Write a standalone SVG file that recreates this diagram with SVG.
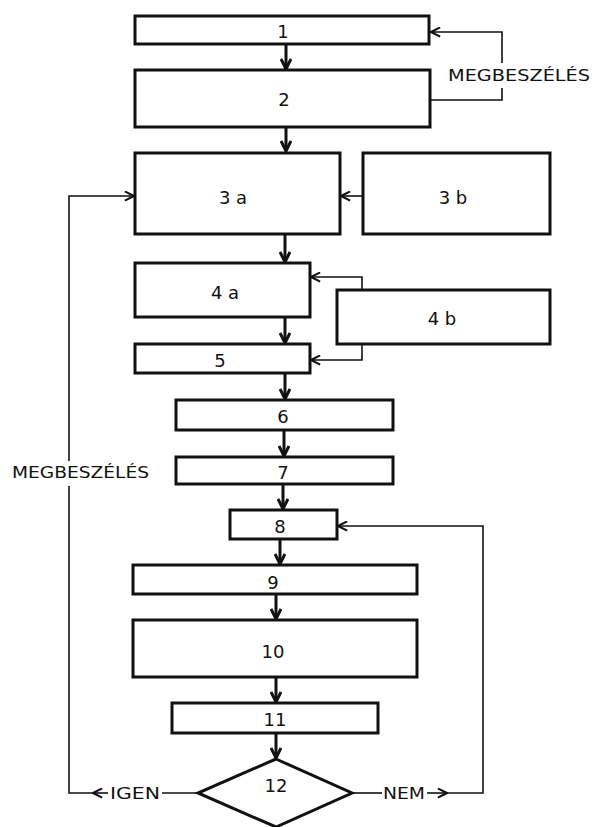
<svg xmlns="http://www.w3.org/2000/svg" width="592" height="827" viewBox="0 0 592 827">
<style>
.box{fill:#fff;stroke:#111;stroke-width:3}
.lbl{font-family:"DejaVu Sans","Liberation Sans",sans-serif;font-size:18px;fill:#111;text-anchor:middle;dominant-baseline:central}
.main{fill:none;stroke:#111;stroke-width:3}
.thin{fill:none;stroke:#111;stroke-width:1.6}
.word{font-family:"DejaVu Sans","Liberation Sans",sans-serif;font-size:16px;fill:#111;dominant-baseline:central}
</style>
<defs>
<marker id="ah" viewBox="0 0 12 12" refX="11" refY="6" markerWidth="12" markerHeight="12" orient="auto" markerUnits="userSpaceOnUse">
<path d="M1,1 L11,6 L1,11" fill="none" stroke="#111" stroke-width="3"/>
</marker>
<marker id="ahs" viewBox="0 0 12 12" refX="11" refY="6" markerWidth="11" markerHeight="11" orient="auto" markerUnits="userSpaceOnUse">
<path d="M1,1 L11,6 L1,11" fill="none" stroke="#111" stroke-width="2.2"/>
</marker>
</defs>
<rect width="592" height="827" fill="#fff"/>
<g id="connectors">
<path class="main" d="M286,44 V69" marker-end="url(#ah)"/>
<path class="main" d="M286,127 V151" marker-end="url(#ah)"/>
<path class="main" d="M285,234 V262" marker-end="url(#ah)"/>
<path class="main" d="M285,317 V343" marker-end="url(#ah)"/>
<path class="main" d="M285,373 V399" marker-end="url(#ah)"/>
<path class="main" d="M284,430 V456" marker-end="url(#ah)"/>
<path class="main" d="M283,484 V509" marker-end="url(#ah)"/>
<path class="main" d="M280,539 V564" marker-end="url(#ah)"/>
<path class="main" d="M276,594 V619" marker-end="url(#ah)"/>
<path class="main" d="M276,677 V702" marker-end="url(#ah)"/>
<path class="main" d="M276,733 V758" marker-end="url(#ah)"/>
<path class="thin" d="M363,196 H341" marker-end="url(#ahs)"/>
<path class="thin" d="M430,100 H502 V88"/>
<path class="thin" d="M502,63 V32 H431" marker-end="url(#ahs)"/>
<path class="thin" d="M362,290 V277 H311" marker-end="url(#ahs)"/>
<path class="thin" d="M362,344 V360 H311" marker-end="url(#ahs)"/>
<path class="thin" d="M198,793 H162"/>
<path class="thin" d="M108,793 H93" marker-end="url(#ahs)"/>
<path class="thin" d="M93,793 H69 V486"/>
<path class="thin" d="M69,461 V196 H134" marker-end="url(#ahs)"/>
<path class="thin" d="M352,793 H382"/>
<path class="thin" d="M427,793 H447" marker-end="url(#ahs)"/>
<path class="thin" d="M447,793 H483 V526 H338" marker-end="url(#ahs)"/>
<text class="word" x="448" y="75" textLength="142" lengthAdjust="spacingAndGlyphs">MEGBESZÉLÉS</text>
<text class="word" x="12" y="472" textLength="137" lengthAdjust="spacingAndGlyphs">MEGBESZÉLÉS</text>
<text class="word" x="110" y="793" textLength="50" lengthAdjust="spacingAndGlyphs">IGEN</text>
<text class="word" x="383" y="793" textLength="42" lengthAdjust="spacingAndGlyphs">NEM</text>
</g>
<g id="n1"><rect class="box" x="135" y="16" width="294" height="28"/><text class="lbl" x="283" y="31">1</text></g>
<g id="n2"><rect class="box" x="135" y="70" width="295" height="57"/><text class="lbl" x="284" y="99">2</text></g>
<g id="n3a"><rect class="box" x="135" y="153" width="205" height="81"/><text class="lbl" x="233" y="197">3 a</text></g>
<g id="n3b"><rect class="box" x="363" y="153" width="187" height="81"/><text class="lbl" x="453" y="197">3 b</text></g>
<g id="n4a"><rect class="box" x="135" y="263" width="175" height="54"/><text class="lbl" x="225" y="292">4 a</text></g>
<g id="n4b"><rect class="box" x="337" y="290" width="213" height="54"/><text class="lbl" x="442" y="318">4 b</text></g>
<g id="n5"><rect class="box" x="135" y="344" width="175" height="29"/><text class="lbl" x="220" y="360">5</text></g>
<g id="n6"><rect class="box" x="176" y="400" width="217" height="30"/><text class="lbl" x="283" y="416">6</text></g>
<g id="n7"><rect class="box" x="176" y="457" width="217" height="27"/><text class="lbl" x="283" y="472">7</text></g>
<g id="n8"><rect class="box" x="230" y="510" width="107" height="29"/><text class="lbl" x="280" y="526">8</text></g>
<g id="n9"><rect class="box" x="133" y="565" width="284" height="29"/><text class="lbl" x="273" y="582">9</text></g>
<g id="n10"><rect class="box" x="133" y="620" width="284" height="57"/><text class="lbl" x="273" y="651">10</text></g>
<g id="n11"><rect class="box" x="172" y="703" width="206" height="30"/><text class="lbl" x="275" y="719">11</text></g>
<g id="n12"><polygon class="box" points="276,759 352,793 276,827 198,793"/><text class="lbl" x="276" y="785">12</text></g>
</svg>
